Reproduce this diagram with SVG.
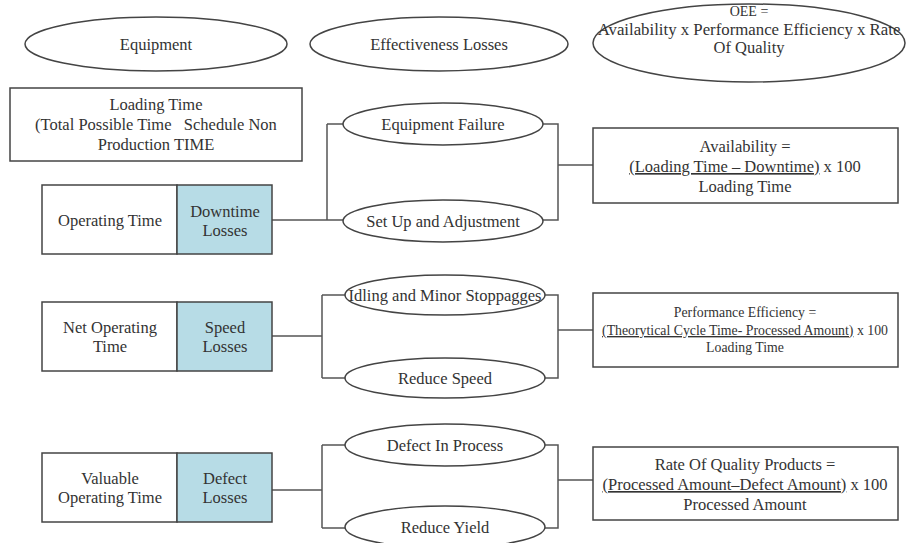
<svg xmlns="http://www.w3.org/2000/svg" width="907" height="543" viewBox="0 0 907 543">
<style>
text{font-family:"Liberation Serif","Times New Roman",serif;font-size:16.5px;fill:#333;text-anchor:middle}
.sm{font-size:13.8px}
.big{font-size:16.8px}
.oee{font-size:14px}
.shape{fill:#fff;stroke:#444;stroke-width:1.5}
.blue{fill:#b7dce6;stroke:#444;stroke-width:1.5}
.con{fill:none;stroke:#555;stroke-width:1.5}
.u{text-decoration:underline}
</style>
<rect width="907" height="543" fill="#fff"/>
<g id="connectors">
<path class="con" d="M272,220 H343 M327,124 V220 M327,124 H343 M543,124 H558 V220 H543 M558,165 H593"/>
<path class="con" d="M272,336 H322 M322,295 V378 M322,295 H345 M322,378 H345 M545,295 H558 V378 H545 M558,330 H593"/>
<path class="con" d="M272,490 H322 M322,445 V528 M322,445 H345 M322,528 H345 M545,445 H558 V528 H545 M558,480 H593"/>
</g>
<g id="equipment-header"><ellipse class="shape" cx="156" cy="44" rx="131" ry="27"/><text x="156" y="50">Equipment</text></g>
<g id="losses-header"><ellipse class="shape" cx="439" cy="44" rx="129" ry="27"/><text x="439" y="50">Effectiveness Losses</text></g>
<g id="oee-header"><ellipse class="shape" cx="749" cy="43" rx="156" ry="39"/>
<text class="oee" x="749" y="16">OEE =</text><text class="big" x="749" y="35">Availability x Performance Efficiency x Rate</text><text x="749" y="53">Of Quality</text></g>
<g id="loading-time"><rect class="shape" x="10" y="88" width="292" height="73"/>
<text x="156" y="110">Loading Time</text><text x="156" y="130" xml:space="preserve">(Total Possible Time   Schedule Non</text><text x="156" y="150">Production TIME</text></g>

<g id="operating-time"><rect class="shape" x="42" y="185" width="135" height="69"/><text x="110" y="226">Operating Time</text></g>
<g id="downtime-losses"><rect class="blue" x="177" y="185" width="95" height="69"/><text x="225" y="217">Downtime</text><text x="225" y="236">Losses</text></g>
<g id="equipment-failure"><ellipse class="shape" cx="443" cy="124" rx="100" ry="21"/><text x="443" y="130">Equipment Failure</text></g>
<g id="setup-adjustment"><ellipse class="shape" cx="443" cy="221" rx="100" ry="21"/><text x="443" y="227">Set Up and Adjustment</text></g>
<g id="availability"><rect class="shape" x="593" y="128" width="305" height="75"/>
<text x="745" y="152">Availability =</text><text x="745" y="172"><tspan class="u">(Loading Time – Downtime)</tspan> x 100</text><text x="745" y="192">Loading Time</text></g>

<g id="net-operating-time"><rect class="shape" x="42" y="302" width="135" height="69"/><text x="110" y="333">Net Operating</text><text x="110" y="352">Time</text></g>
<g id="speed-losses"><rect class="blue" x="177" y="302" width="95" height="69"/><text x="225" y="333">Speed</text><text x="225" y="352">Losses</text></g>
<g id="idling"><ellipse class="shape" cx="445" cy="295" rx="100" ry="20"/><text x="445" y="301">Idling and Minor Stoppagges</text></g>
<g id="reduce-speed"><ellipse class="shape" cx="445" cy="378" rx="100" ry="20"/><text x="445" y="384">Reduce Speed</text></g>
<g id="performance"><rect class="shape" x="593" y="293" width="305" height="74"/>
<text class="sm" x="745" y="317">Performance Efficiency =</text><text class="sm" x="745" y="335"><tspan class="u">(Theorytical Cycle Time- Processed Amount)</tspan> x 100</text><text class="sm" x="745" y="352">Loading Time</text></g>

<g id="valuable-operating-time"><rect class="shape" x="42" y="453" width="135" height="69"/><text x="110" y="484">Valuable</text><text x="110" y="503">Operating Time</text></g>
<g id="defect-losses"><rect class="blue" x="177" y="453" width="95" height="69"/><text x="225" y="484">Defect</text><text x="225" y="503">Losses</text></g>
<g id="defect-in-process"><ellipse class="shape" cx="445" cy="445" rx="100" ry="21"/><text x="445" y="451">Defect In Process</text></g>
<g id="reduce-yield"><ellipse class="shape" cx="445" cy="527" rx="100" ry="21"/><text x="445" y="533">Reduce Yield</text></g>
<g id="quality"><rect class="shape" x="593" y="447" width="305" height="73"/>
<text x="745" y="470">Rate Of Quality Products =</text><text x="745" y="490"><tspan class="u">(Processed Amount–Defect Amount)</tspan> x 100</text><text x="745" y="510">Processed Amount</text></g>
</svg>
